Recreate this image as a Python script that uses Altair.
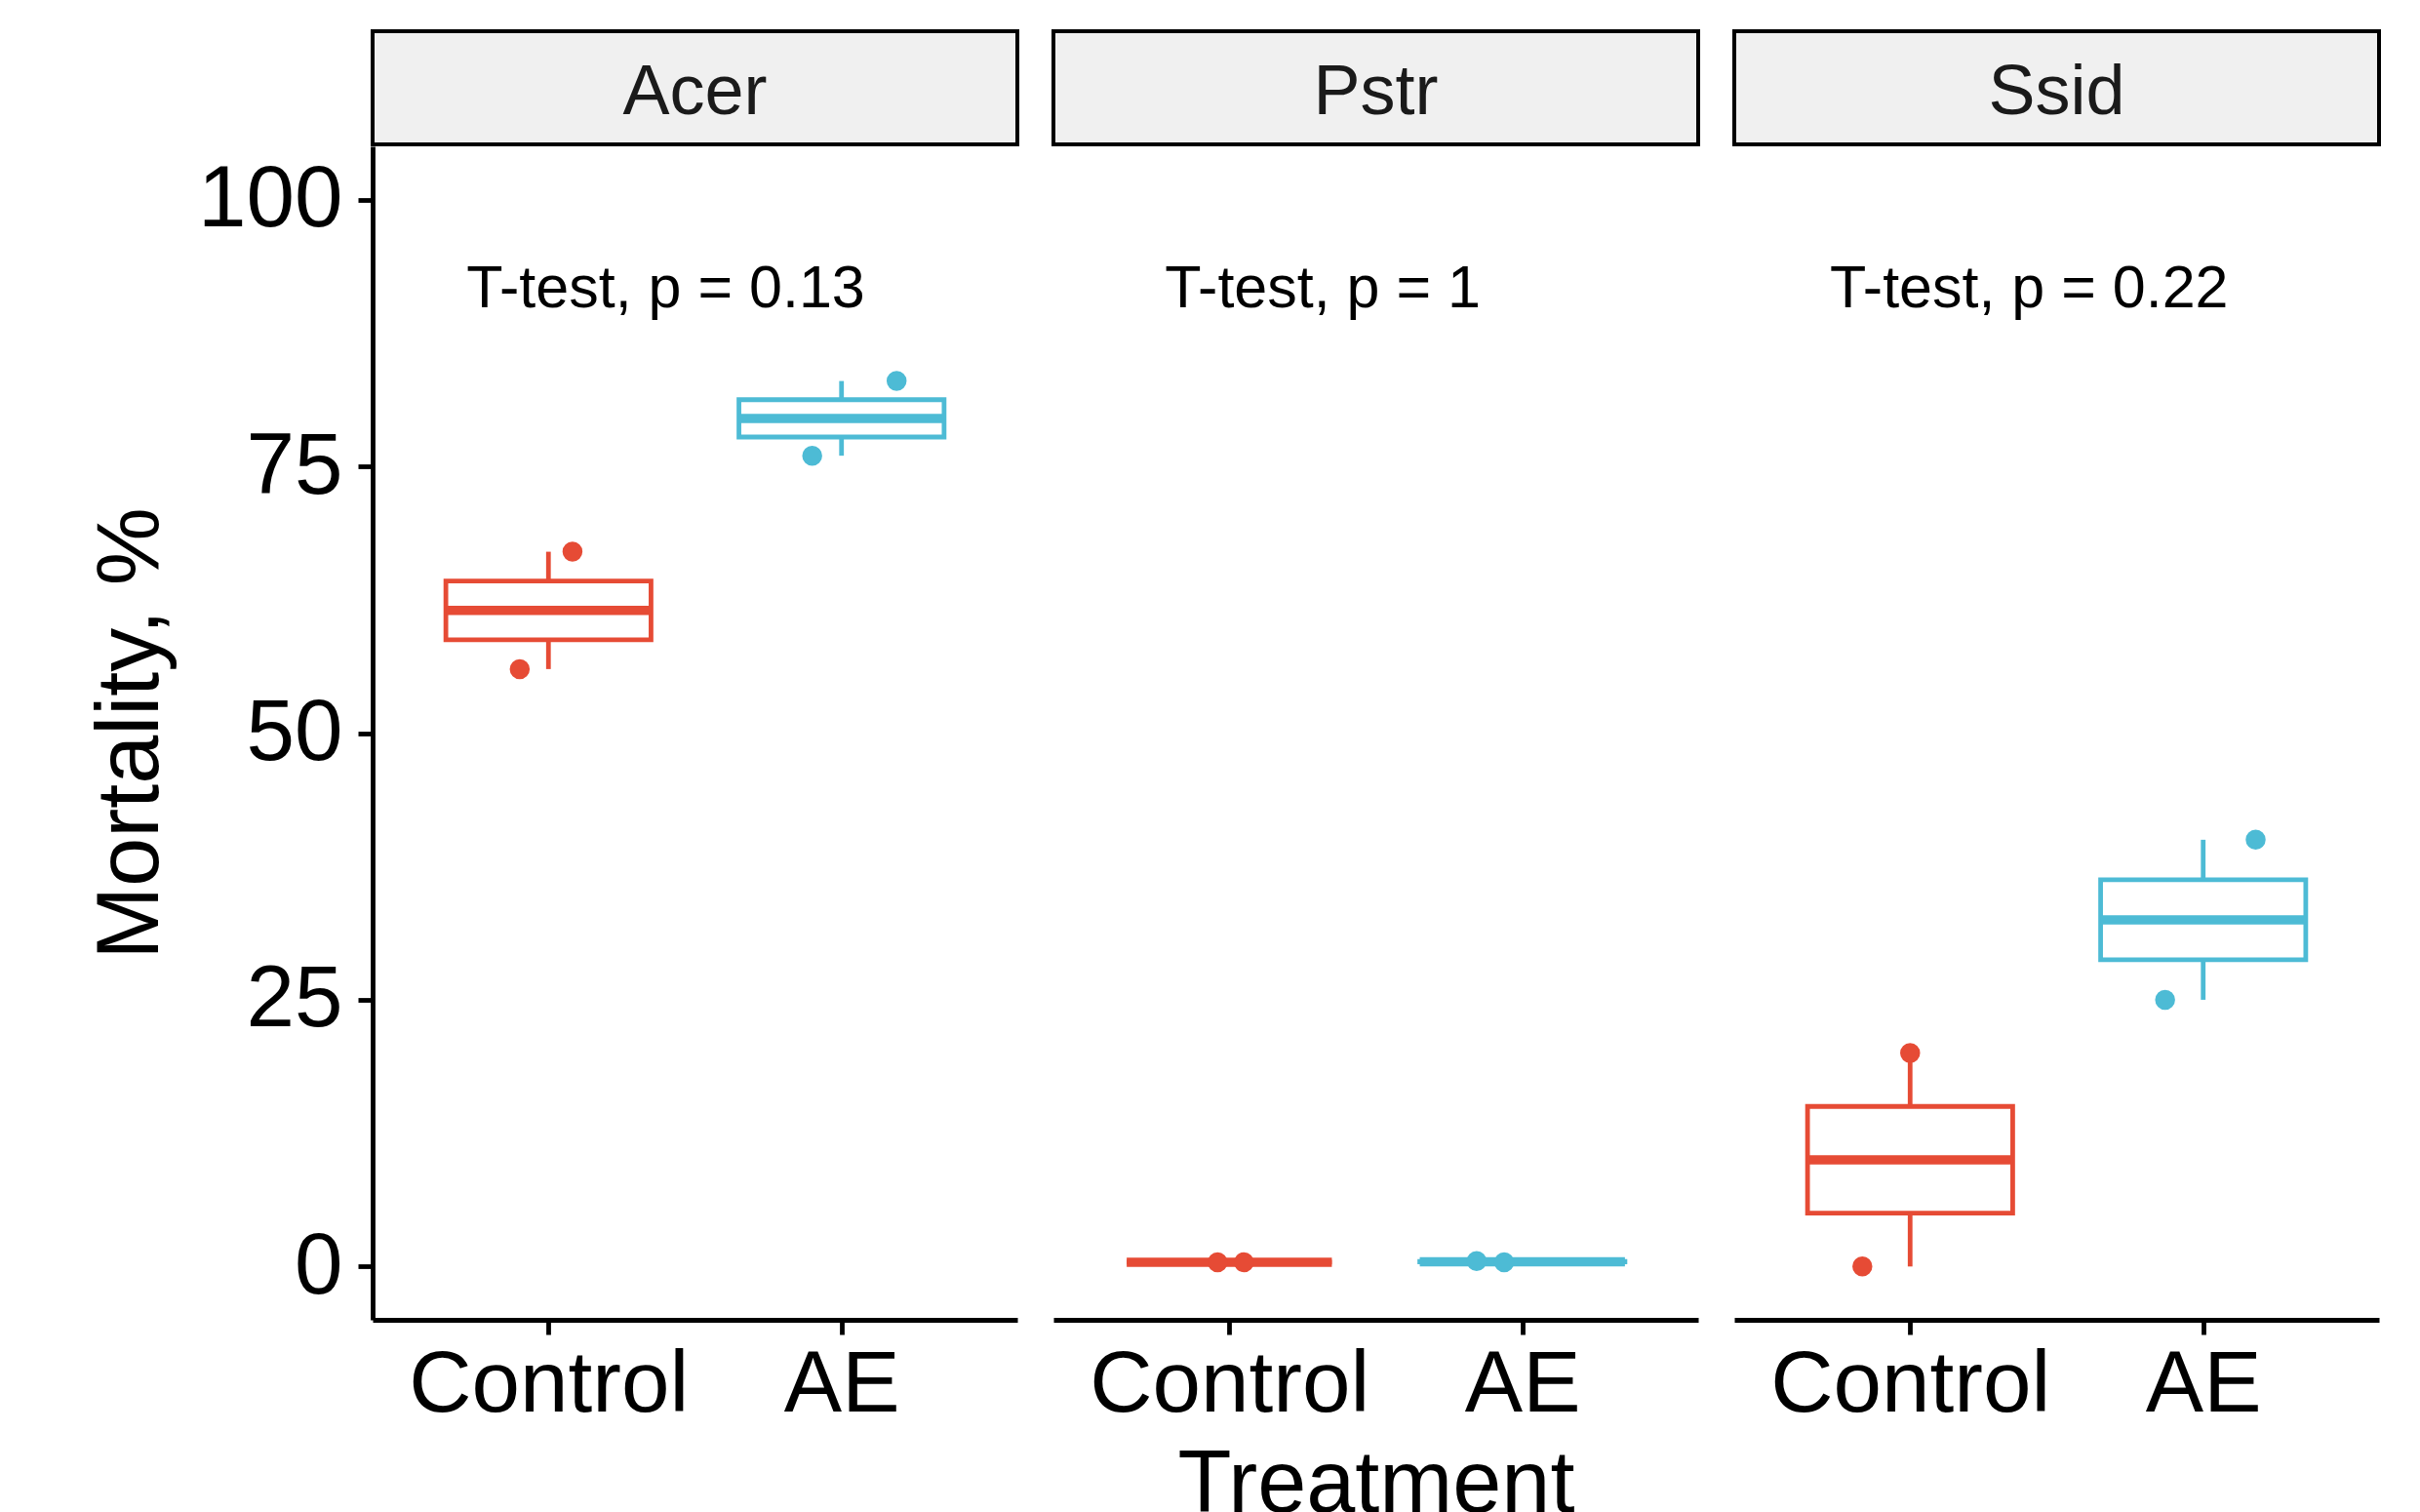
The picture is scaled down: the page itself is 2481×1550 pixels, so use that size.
import altair as alt
import pandas as pd

# ---- data ----
species = ["Acer", "Pstr", "Ssid"]
treatments = ["Control", "AE"]
colors = ["#E64B35", "#4DBBD5"]

acer_control = [56, 67]
acer_ae = [76, 83]
pstr_control = [0.4, 0.4]
pstr_ae = [0.5, 0.4]
ssid_control = [0, 20]
ssid_ae = [25, 40]

# horizontal jitter of each point (in category units)
acer_control_jitter = [-0.098, 0.082]
acer_ae_jitter = [-0.10, 0.188]
pstr_control_jitter = [-0.04, 0.05]
pstr_ae_jitter = [-0.156, -0.062]
ssid_control_jitter = [-0.163, 0.0]
ssid_ae_jitter = [-0.13, 0.179]

p_labels = ["T-test, p = 0.13", "T-test, p = 1", "T-test, p = 0.22"]

values = {
    ("Acer", "Control"): (acer_control, acer_control_jitter),
    ("Acer", "AE"): (acer_ae, acer_ae_jitter),
    ("Pstr", "Control"): (pstr_control, pstr_control_jitter),
    ("Pstr", "AE"): (pstr_ae, pstr_ae_jitter),
    ("Ssid", "Control"): (ssid_control, ssid_control_jitter),
    ("Ssid", "AE"): (ssid_ae, ssid_ae_jitter),
}

rows = []
for (sp, tr), (vals, jit) in values.items():
    pos = treatments.index(tr) + 1
    for v, j in zip(vals, jit):
        rows.append({"species": sp, "treatment": tr, "pos": pos,
                     "mortality": v, "px": pos + j})
df = pd.DataFrame(rows)
ann_df = pd.DataFrame({"species": species, "label": p_labels})
strip_df = pd.DataFrame({"species": species})

# ---- styling ----
FONT = "Liberation Sans"
W, H = 661, 1203
LW = 4.8
label_x = {"Acer": 0.72, "Pstr": 0.78, "Ssid": 0.726}

xscale = alt.Scale(domain=[0.4, 2.6], nice=False, zero=False)
yscale = alt.Scale(domain=[-5, 105], nice=False, zero=False)
cscale = alt.Scale(domain=treatments, range=colors)
label_expr = "[" + ",".join("'%s'" % t for t in treatments) + "][datum.value - 1]"


def x_axis():
    return alt.Axis(values=[1, 2], labelExpr=label_expr, grid=False,
                    labelFontSize=89, labelFont=FONT, labelColor="black",
                    labelLimit=2000,
                    tickSize=15, tickWidth=LW, tickColor="black",
                    domainWidth=LW, domainColor="black", labelPadding=8,
                    labelFlush=False, titleFontSize=90, titleFont=FONT,
                    titleFontWeight="normal", titleColor="black", titlePadding=14)


def panel(i, sp):
    base = alt.Chart(df).transform_filter(alt.datum.species == sp)
    xtitle = "Treatment" if i == 1 else None
    if i == 0:
        yaxis = alt.Axis(values=[0, 25, 50, 75, 100], grid=False,
                         labelFontSize=89, labelFont=FONT, labelColor="black",
                         labelLimit=2000,
                         tickSize=15, tickWidth=LW, tickColor="black",
                         domainWidth=LW, domainColor="black", labelPadding=16,
                         labelFlush=False, titleFontSize=90, titleFont=FONT,
                         titleFontWeight="normal", titleColor="black",
                         titlePadding=22)
        ytitle = "Mortality, %"
    else:
        yaxis = None
        ytitle = None

    stats = base.transform_aggregate(
        q1="q1(mortality)", med="median(mortality)", q3="q3(mortality)",
        lo="min(mortality)", hi="max(mortality)",
        groupby=["treatment", "pos"],
    ).transform_calculate(xl="datum.pos - 0.35", xr="datum.pos + 0.35")

    stroke = alt.Stroke("treatment:N", scale=cscale, legend=None)

    whisk_lo = stats.mark_rule(strokeWidth=LW).encode(
        x=alt.X("pos:Q", scale=xscale, axis=x_axis(), title=xtitle),
        y=alt.Y("lo:Q", scale=yscale, axis=yaxis, title=ytitle),
        y2="q1:Q", stroke=stroke)
    whisk_hi = stats.mark_rule(strokeWidth=LW).encode(
        x=alt.X("pos:Q"), y=alt.Y("q3:Q"), y2="hi:Q", stroke=stroke)
    box = stats.mark_bar(fill="white", strokeWidth=LW).encode(
        x=alt.X("xl:Q"), x2="xr:Q", y=alt.Y("q1:Q"), y2="q3:Q", stroke=stroke)
    median = stats.mark_rule(strokeWidth=9.5, strokeCap="butt").encode(
        x=alt.X("xl:Q"), x2="xr:Q", y=alt.Y("med:Q"), stroke=stroke)
    points = base.mark_circle(size=420, opacity=1).encode(
        x=alt.X("px:Q"), y=alt.Y("mortality:Q"),
        color=alt.Color("treatment:N", scale=cscale, legend=None))
    text = alt.Chart(ann_df).transform_filter(alt.datum.species == sp).mark_text(
        align="left", baseline="alphabetic", fontSize=61, font=FONT, color="black"
    ).encode(x=alt.datum(label_x[sp]), y=alt.datum(89.9), text="label:N")
    strip_rect = alt.Chart(strip_df).transform_filter(alt.datum.species == sp).mark_rect(
        fill="#F0F0F0", stroke="black", strokeWidth=4
    ).encode(x=alt.value(0), x2=alt.value(W), y=alt.value(-118), y2=alt.value(-2))
    strip_text = alt.Chart(strip_df).transform_filter(alt.datum.species == sp).mark_text(
        align="center", baseline="middle", fontSize=72, font=FONT, color="#1A1A1A"
    ).encode(x=alt.value(W / 2), y=alt.value(-55), text="species:N")

    return alt.layer(whisk_lo, whisk_hi, box, median, points, text,
                     strip_rect, strip_text).properties(width=W, height=H)


chart = alt.hconcat(*[panel(i, s) for i, s in enumerate(species)],
                    spacing=37, bounds="flush").properties(
    padding={"left": 81, "top": 22, "right": 5, "bottom": 5},
    background="white",
).configure_view(stroke="transparent", strokeWidth=0)

chart.save("out.html", embed_options={"renderer": "svg", "actions": False})
